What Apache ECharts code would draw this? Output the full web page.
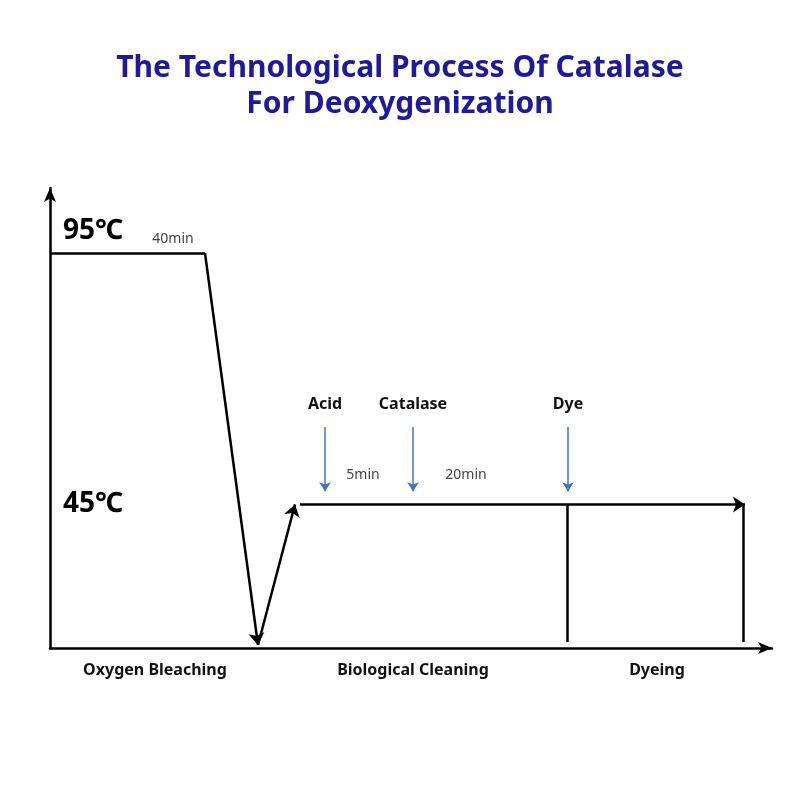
<!DOCTYPE html><html><head><meta charset="utf-8">
<script src="https://cdn.jsdelivr.net/npm/echarts@6/dist/echarts.min.js"></script></head>
<body style="margin:0"><div id="c" style="width:800px;height:800px"></div>
<script>
// x in schematic units (0..722), y in °C
const profile = [[[0,95],[155,95]],[[155,95],[208,17]]];
const rise = [[208,17],[245,45]];
const hold = [[250,45],[695,45]];
const dividers = [[[517,17.6],[517,45]],[[693,17.6],[693,45]]];
const additions = [{name:'Acid',x:275},{name:'Catalase',x:363},{name:'Dye',x:518}];
const durations = [{t:'40min',x:123,y:97.8},{t:'5min',x:313,y:50.8},{t:'20min',x:416,y:50.8}];
const tempLabels = [{t:'95℃',x:8,y:99.4},{t:'45℃',x:8,y:45}];
const stages = [{t:'Oxygen Bleaching',x:105},{t:'Biological Cleaning',x:363},{t:'Dyeing',x:607}];
const black = {color:'#000',width:2.5,opacity:1};
const ch = echarts.init(document.getElementById('c'));
const txt = (arr, mk) => ({type:'scatter',symbolSize:0,clip:false,silent:true,itemStyle:{opacity:1},data:arr.map(mk)});
ch.setOption({
  title:{text:'The Technological Process Of Catalase\nFor Deoxygenization',left:'center',top:45,
    textStyle:{color:'#1f1a9c',fontSize:30,fontWeight:'bold',lineHeight:36,fontFamily:'Noto Sans'}},
  grid:{left:50,right:28,top:188,bottom:152},
  xAxis:{type:'value',min:0,max:722,axisLine:{lineStyle:{color:'#000',width:2.5},symbol:['none','arrow'],symbolSize:[9,14]},
    splitLine:{show:false},axisTick:{show:false},axisLabel:{show:false}},
  yAxis:{type:'value',min:16.4,max:108,axisLine:{show:true,onZero:false,lineStyle:{color:'#000',width:2.5},symbol:['none','arrow'],symbolSize:[9,14]},
    splitLine:{show:false},axisTick:{show:false},axisLabel:{show:false}},
  series:[
    {type:'lines',coordinateSystem:'cartesian2d',lineStyle:black,symbol:['none','none'],
      data:[{coords:profile[0]}]},
    {type:'lines',coordinateSystem:'cartesian2d',lineStyle:black,symbol:['none','arrow'],symbolSize:12,
      data:[{coords:profile[1]},{coords:rise},{coords:hold}]},
    {type:'lines',coordinateSystem:'cartesian2d',lineStyle:black,symbol:['none','none'],
      data:dividers.map(d=>({coords:d}))},
    {type:'lines',coordinateSystem:'cartesian2d',lineStyle:{color:'#4472c4',width:1.5,opacity:1},symbol:['none','arrow'],symbolSize:9,
      data:additions.map(a=>({coords:[[a.x,60.4],[a.x,47.6]]}))},
    txt(additions,a=>({value:[a.x,65],label:{show:true,formatter:a.name,position:'inside',fontSize:16,fontWeight:'bold',color:'#111',fontFamily:'Noto Sans'}})),
    txt(durations,d=>({value:[d.x,d.y],label:{show:true,formatter:d.t,position:'inside',fontSize:14,color:'#444',fontFamily:'Noto Sans'}})),
    txt(tempLabels,d=>({value:[d.x,d.y],label:{show:true,formatter:d.t,position:'right',fontSize:28,fontWeight:'bold',color:'#000',fontFamily:'Noto Sans'}})),
    txt(stages,d=>({value:[d.x,12],label:{show:true,formatter:d.t,position:'inside',fontSize:16,fontWeight:'bold',color:'#111',fontFamily:'Noto Sans'}}))
  ]
});
</script></body></html>
